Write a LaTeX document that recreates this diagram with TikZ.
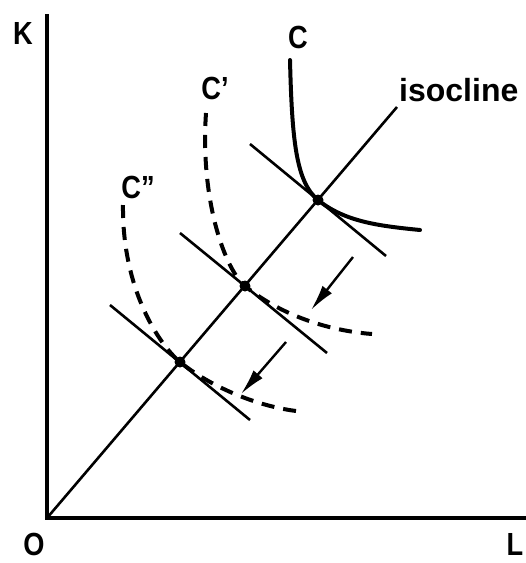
\documentclass[tikz,border=0pt]{standalone}
\usepackage{fontspec}
\setmainfont{Liberation Sans}
\usetikzlibrary{arrows.meta}
\begin{document}
\begin{tikzpicture}[x=1pt,y=-1pt,
  axis/.style={line width=3.2pt},
  thinln/.style={line width=2.6pt},
  iso/.style={line width=4pt, line cap=round},
  dashiso/.style={line width=4pt, dash pattern=on 13pt off 9pt},
  lbl/.style={font=\fontsize{32}{32}\selectfont\bfseries, inner sep=0pt, xscale=0.85},
  shiftarrow/.style={line width=2.4pt, -{Latex[length=26pt,width=12pt]}}]
\useasboundingbox (0,0) rectangle (526,563);
% key points
\coordinate (O) at (47,518);
\coordinate (Ktop) at (47,14);
\coordinate (Lend) at (526,518);
\coordinate (Itop) at (397,107);
\coordinate (P1) at (318,200);
\coordinate (P2) at (245,286);
\coordinate (P3) at (180,362);
% axes and isocline
\draw[axis] (Ktop) -- (O) -- (Lend);
\draw[thinln] (O) -- (Itop);
% isocost lines
\coordinate (T1a) at (250,144); \coordinate (T1b) at (386,256);
\coordinate (T2a) at (180,233); \coordinate (T2b) at (327,353);
\coordinate (T3a) at (110,305); \coordinate (T3b) at (250,420);
\draw[thinln] (T1a) -- (T1b);
\draw[thinln] (T2a) -- (T2b);
\draw[thinln] (T3a) -- (T3b);
% isoquants
\coordinate (C1s) at (290,60);  \coordinate (C1e) at (420,230);
\coordinate (C2s) at (206,113); \coordinate (C2e) at (372,334);
\coordinate (C3s) at (123,205); \coordinate (C3e) at (296,411);
\draw[iso] (C1s) .. controls (292,140) and (296,182) .. (P1)
  .. controls (345,222) and (380,226) .. (C1e);
\draw[dashiso] (C2s) .. controls (200,200) and (225,269.6) .. (P2)
  .. controls (275,310.6) and (320,330) .. (C2e);
\draw[dashiso] (C3s) .. controls (122,290) and (160,345.6) .. (P3)
  .. controls (205,382.5) and (250,405) .. (C3e);
% equilibrium dots
\fill (P1) circle (5.5pt);
\fill (P2) circle (5.5pt);
\fill (P3) circle (5.5pt);
% shift arrows
\coordinate (A1s) at (353,257); \coordinate (A1e) at (311,310);
\coordinate (A2s) at (286,342); \coordinate (A2e) at (241,394);
\draw[shiftarrow] (A1s) -- (A1e);
\draw[shiftarrow] (A2s) -- (A2e);
% labels
\node[lbl] (K) at (23,33) {K};
\node[lbl] (Olbl) at (34,544) {O};
\node[lbl] (L) at (515,544) {L};
\node[lbl] (C) at (298,37) {C};
\node[lbl] (Cp) at (215,88) {C'};
\node[lbl] (Cpp) at (138,187) {C''};
\node[lbl, xscale=1/0.85, anchor=west] (isoc) at (399,90) {isocline};
\end{tikzpicture}
\end{document}
